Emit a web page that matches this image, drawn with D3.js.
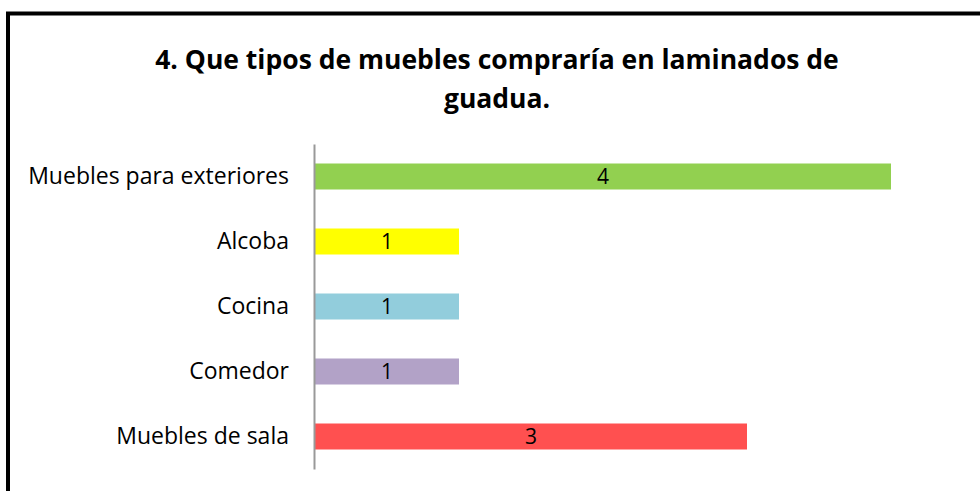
<!DOCTYPE html>
<html>
<head>
<meta charset="utf-8">
<script src="https://cdn.jsdelivr.net/npm/d3@7"></script>
<style>
  body { margin: 0; background: #fff; }
  text { font-family: "Open Sans", "Noto Sans", sans-serif; }
</style>
</head>
<body>
<div id="chart"></div>
<script>
var categories = ["Muebles para exteriores", "Alcoba", "Cocina", "Comedor", "Muebles de sala"];
var values = [4, 1, 1, 1, 3];
var colors = ["#92D050", "#FFFF00", "#92CDDC", "#B2A2C7", "#FF5050"];
var titleLines = ["4. Que tipos de muebles compraría en laminados de", "guadua."];

var svg = d3.select("#chart")
    .append("svg")
    .attr("width", 980)
    .attr("height", 491);

// frame (only left and top edges visible in the crop)
svg.append("path")
    .attr("d", "M8,491 V13.5 H980")
    .attr("fill", "none")
    .attr("stroke", "#000")
    .attr("stroke-width", 4);

svg.append("text")
    .attr("text-anchor", "middle")
    .attr("font-weight", "bold")
    .attr("font-size", 26.5)
    .selectAll("tspan")
    .data(titleLines)
    .enter().append("tspan")
    .attr("x", 497)
    .attr("y", function (d, i) { return 69 + i * 39; })
    .text(function (d) { return d; });

var margin = {top: 144, left: 315},
    width = 576,
    height = 325;

var x = d3.scaleLinear().domain([0, 4]).range([0, width]);
var y = d3.scaleBand().domain(categories).range([0, height]).paddingInner(0.6).paddingOuter(0.3);

var g = svg.append("g")
    .attr("transform", "translate(" + margin.left + "," + margin.top + ")");

g.selectAll(".bar")
    .data(values)
    .enter().append("rect")
    .attr("class", "bar")
    .attr("x", x(0))
    .attr("y", function (d, i) { return y(categories[i]); })
    .attr("width", function (d) { return x(d); })
    .attr("height", y.bandwidth())
    .attr("fill", function (d, i) { return colors[i]; });

g.selectAll(".val")
    .data(values)
    .enter().append("text")
    .attr("class", "val")
    .attr("x", function (d) { return x(d) / 2; })
    .attr("y", function (d, i) { return y(categories[i]) + y.bandwidth() / 2; })
    .attr("dy", "0.36em")
    .attr("text-anchor", "middle")
    .attr("font-size", 21)
    .text(function (d) { return d; });

var yAxis = d3.axisLeft(y).tickSize(0).tickPadding(25);
var ax = g.append("g")
    .attr("transform", "translate(-1,0)")
    .call(yAxis);
ax.select(".domain").attr("stroke", "#999").attr("stroke-width", 2);
ax.selectAll("text")
    .attr("font-size", 23)
    .attr("fill", "#000")
    .style("font-family", "'Open Sans', 'Noto Sans', sans-serif");
</script>
</body>
</html>
